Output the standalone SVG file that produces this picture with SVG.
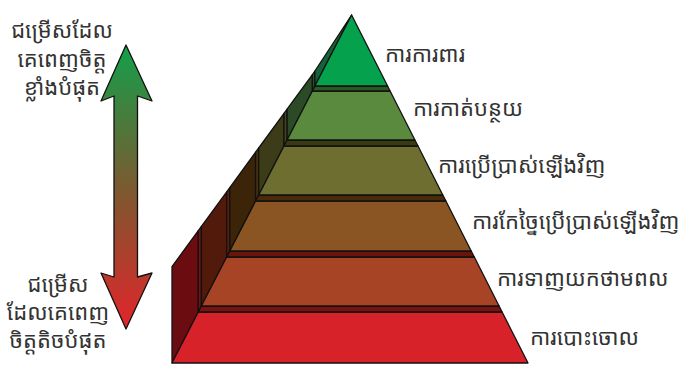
<svg xmlns="http://www.w3.org/2000/svg" width="696" height="370" viewBox="0 0 696 370">
<defs>
<linearGradient id="arrowGrad" x1="0" y1="45" x2="0" y2="329" gradientUnits="userSpaceOnUse">
<stop offset="0" stop-color="#12a04a"/>
<stop offset="0.5" stop-color="#7a5a30"/>
<stop offset="1" stop-color="#e2252a"/>
</linearGradient>
<style>
.s{stroke:#111;stroke-width:1.3;stroke-linejoin:round}
.t{font-family:"Noto Sans Khmer","Khmer OS System","Khmer OS","Noto Sans","DejaVu Sans",sans-serif;font-size:22px;fill:#333}
.tl{text-anchor:middle}
</style>
</defs>
<rect width="696" height="370" fill="#fff"/>
<g id="arrow">
<path class="s" fill="url(#arrowGrad)" d="M126,45 L152,101 L137.5,96 L137.5,277 L152,273 L126,329 L101,273 L114,277 L114,96 L101,101 Z"/>
</g>
<g id="label-most">
<text class="t tl" x="62" y="38">ជម្រើសដែល</text>
<text class="t tl" x="62" y="67">គេពេញចិត្ត</text>
<text class="t tl" x="62" y="95">ខ្លាំងបំផុត</text>
</g>
<g id="label-least">
<text class="t tl" x="58" y="292">ជម្រើស</text>
<text class="t tl" x="58" y="320">ដែលគេពេញ</text>
<text class="t tl" x="58" y="348">ចិត្តតិចបំផុត</text>
</g>
<g id="layer6-dispose">
<polygon class="s" fill="#6a0c10" points="172,363 172,266.6 198.3,230.6 198.3,312"/>
<polygon class="s" fill="#7a1014" points="198.3,312 198.3,230.6 201.4,226.4 201.4,306"/>
<polygon class="s" fill="#d8222a" points="172,363 528,363 502.1,312 198.3,312"/>
<polygon class="s" fill="#7a1212" points="198.3,312 502.1,312 499.1,306 201.4,306"/>
<text class="t" x="530" y="345">ការបោះចោល</text>
</g>
<g id="layer5-energy">
<polygon class="s" fill="#521a0a" points="201.4,306 201.4,226.4 226.7,191.8 226.7,257"/>
<polygon class="s" fill="#5e1e0c" points="226.7,257 226.7,191.8 229.8,187.6 229.8,251"/>
<polygon class="s" fill="#a84426" points="201.4,306 499.1,306 474.3,257 226.7,257"/>
<polygon class="s" fill="#6a140c" points="226.7,257 474.3,257 471.2,251 229.8,251"/>
<text class="t" x="497" y="286">ការទាញយកថាមពល</text>
</g>
<g id="layer4-recycle">
<polygon class="s" fill="#3c2408" points="229.8,251 229.8,187.6 255.6,152.2 255.6,201"/>
<polygon class="s" fill="#46300c" points="255.6,201 255.6,152.2 258.7,148 258.7,195"/>
<polygon class="s" fill="#8a5522" points="229.8,251 471.2,251 445.9,201 255.6,201"/>
<polygon class="s" fill="#4a2a08" points="255.6,201 445.9,201 442.8,195 258.7,195"/>
<text class="t" x="472" y="229">ការកែច្នៃប្រើប្រាស់ឡើងវិញ</text>
</g>
<g id="layer3-reuse">
<polygon class="s" fill="#3c3c18" points="258.7,195 258.7,148 284,113.4 284,146"/>
<polygon class="s" fill="#46461c" points="284,146 284,113.4 287.1,109.2 287.1,140"/>
<polygon class="s" fill="#6e6e30" points="258.7,195 442.8,195 418,146 284,146"/>
<polygon class="s" fill="#3a3a12" points="284,146 418,146 414.9,140 287.1,140"/>
<text class="t" x="438" y="173">ការប្រើប្រាស់ឡើងវិញ</text>
</g>
<g id="layer2-reduce">
<polygon class="s" fill="#2c4a26" points="287.1,140 287.1,109.2 312.4,74.6 312.4,91"/>
<polygon class="s" fill="#34562c" points="312.4,91 312.4,74.6 314.9,71 314.9,86"/>
<polygon class="s" fill="#5a8a3e" points="287.1,140 414.9,140 390.1,91 312.4,91"/>
<polygon class="s" fill="#2a5a22" points="312.4,91 390.1,91 387.6,86 314.9,86"/>
<text class="t" x="413" y="116">ការកាត់បន្ថយ</text>
</g>
<g id="layer1-prevent">
<polygon class="s" fill="#16603a" points="314.9,86 314.9,71 351.6,15"/>
<polygon class="s" fill="#05a14c" points="314.9,86 387.6,86 351.6,15"/>
<text class="t" x="385" y="62">ការការពារ</text>
</g>
</svg>
